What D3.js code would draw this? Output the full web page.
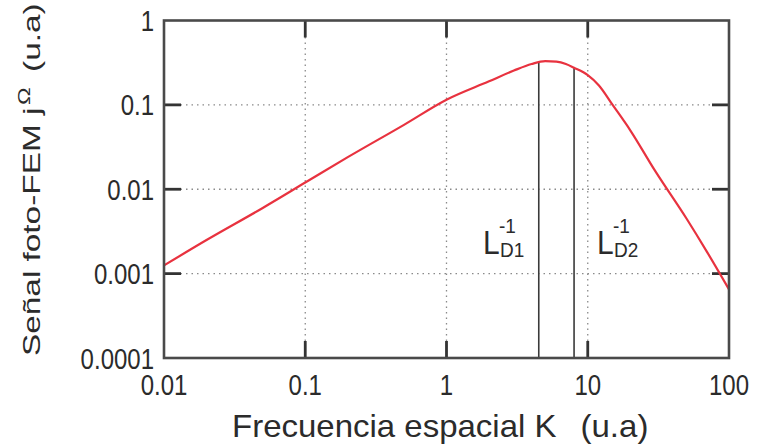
<!DOCTYPE html>
<html>
<head>
<meta charset="utf-8">
<script src="https://cdn.jsdelivr.net/npm/d3@7"></script>
<style>
  body { margin: 0; background: #fff; }
  text { font-family: "Liberation Sans", Arial, sans-serif; fill: #2b2b2b; }
</style>
</head>
<body>
<script>
// spatial frequency K (u.a) and photo-EMF signal (u.a)
const freqK = [0.01, 0.02, 0.05, 0.1, 0.2, 0.5, 1, 2, 3, 4, 5, 6, 7, 8, 10, 12, 15, 20, 30, 50, 70, 100];
const signal = [0.00125, 0.0025, 0.006, 0.012, 0.024, 0.058, 0.115, 0.19, 0.255, 0.305, 0.33, 0.325, 0.305, 0.275, 0.225, 0.17, 0.1, 0.05, 0.0165, 0.0045, 0.0018, 0.00065];

// diffusion-length markers
const markerK = [4.5, 8];
const markerTop = [0.33, 0.275];
const markerNames = ["D1", "D2"];

const xTicks = [0.01, 0.1, 1, 10, 100];
const xTickLabels = ["0.01", "0.1", "1", "10", "100"];
const yTicks = [0.0001, 0.001, 0.01, 0.1, 1];
const yTickLabels = ["0.0001", "0.001", "0.01", "0.1", "1"];

const width = 762, height = 445;
const plot = {left: 164, right: 729, top: 20.5, bottom: 358};
const stretch = 1.25; // tick glyphs in the source are taller than they are wide

const x = d3.scaleLog().domain([0.01, 100]).range([plot.left, plot.right]);
const y = d3.scaleLog().domain([0.0001, 1]).range([plot.bottom, plot.top]);

const svg = d3.select("body").append("svg")
  .attr("width", width)
  .attr("height", height);

const innerX = xTicks.slice(1, -1);
const innerY = yTicks.slice(1, -1);

// dotted grid
svg.append("g")
  .selectAll("line")
  .data(innerX)
  .join("line")
  .attr("x1", d => x(d)).attr("x2", d => x(d))
  .attr("y1", plot.top).attr("y2", plot.bottom)
  .attr("stroke", "#8a8a8a")
  .attr("stroke-width", 1.3)
  .attr("stroke-dasharray", "1.5,4");

svg.append("g")
  .selectAll("line")
  .data(innerY)
  .join("line")
  .attr("x1", plot.left).attr("x2", plot.right)
  .attr("y1", d => y(d)).attr("y2", d => y(d))
  .attr("stroke", "#8a8a8a")
  .attr("stroke-width", 1.3)
  .attr("stroke-dasharray", "1.5,4");

// inward ticks on all four sides
const tickLen = 17;
const ticks = svg.append("g")
  .attr("stroke", "#333")
  .attr("stroke-width", 2.8);

[plot.bottom, plot.top].forEach((edge, side) => {
  ticks.append("g")
    .selectAll("line")
    .data(innerX)
    .join("line")
    .attr("x1", d => x(d)).attr("x2", d => x(d))
    .attr("y1", edge)
    .attr("y2", side === 0 ? edge - tickLen : edge + tickLen);
});
[plot.left, plot.right].forEach((edge, side) => {
  ticks.append("g")
    .selectAll("line")
    .data(innerY)
    .join("line")
    .attr("y1", d => y(d)).attr("y2", d => y(d))
    .attr("x1", edge)
    .attr("x2", side === 0 ? edge + tickLen : edge - tickLen);
});

// marker lines from the curve down to the axis
svg.append("g")
  .selectAll("line")
  .data(markerK)
  .join("line")
  .attr("x1", d => x(d)).attr("x2", d => x(d))
  .attr("y1", (d, i) => y(markerTop[i]))
  .attr("y2", plot.bottom)
  .attr("stroke", "#3a3a3a")
  .attr("stroke-width", 1.6);

// the curve
const line = d3.line()
  .x((d, i) => x(freqK[i]))
  .y(d => y(d))
  .curve(d3.curveMonotoneX);

svg.append("path")
  .datum(signal)
  .attr("d", line)
  .attr("fill", "none")
  .attr("stroke", "#e8323f")
  .attr("stroke-width", 2.2);

// frame
svg.append("rect")
  .attr("x", plot.left).attr("y", plot.top)
  .attr("width", plot.right - plot.left)
  .attr("height", plot.bottom - plot.top)
  .attr("fill", "none")
  .attr("stroke", "#4a4a4a")
  .attr("stroke-width", 2.6);

// tick labels
svg.append("g")
  .selectAll("text")
  .data(xTicks)
  .join("text")
  .attr("transform", d => `translate(${x(d)},395) scale(1,${stretch})`)
  .attr("text-anchor", "middle")
  .style("font-size", "24px")
  .text((d, i) => xTickLabels[i]);

svg.append("g")
  .selectAll("text")
  .data(yTicks)
  .join("text")
  .attr("transform", d => `translate(154,${y(d) + 10.5}) scale(1,${stretch})`)
  .attr("text-anchor", "end")
  .style("font-size", "24px")
  .text((d, i) => yTickLabels[i]);

// axis titles
const xTitle = svg.append("text")
  .attr("transform", "translate(232,437) scale(1,0.95)")
  .style("font-size", "33px");
xTitle.append("tspan").text("Frecuencia espacial K");
xTitle.append("tspan").attr("dx", 24).text("(u.a)");

const yTitle = svg.append("text")
  .attr("transform", "translate(40,356) rotate(-90) scale(1.39,1)")
  .style("font-size", "24px");
yTitle.append("tspan").text("Señal foto-FEM j");
yTitle.append("tspan").attr("dy", -10).attr("dx", 2).style("font-size", "17px").text("Ω");
yTitle.append("tspan").attr("dy", 10).attr("dx", 11).text("(u.a)");

// L_D labels
const labelX = [483, 597];
markerNames.forEach((name, i) => {
  const g = svg.append("g").attr("transform", `translate(${labelX[i]},254) scale(1,1.1)`);
  g.append("text").style("font-size", "30px").text("L");
  g.append("text").attr("x", 16).attr("y", -19).style("font-size", "19px").text("-1");
  g.append("text").attr("x", 17).attr("y", 3).style("font-size", "19px").text(name);
});
</script>
</body>
</html>
